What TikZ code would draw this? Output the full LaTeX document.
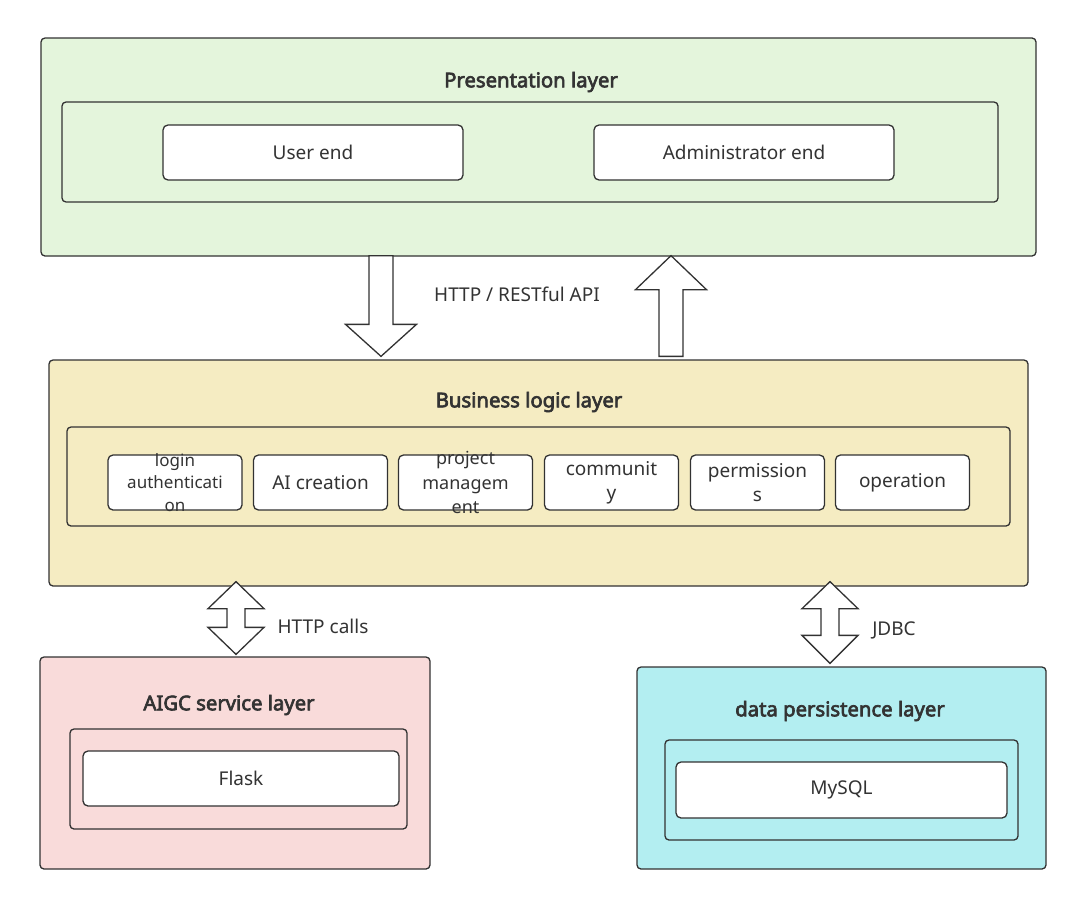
\documentclass[tikz,border=0pt]{standalone}
\usepackage{fontspec}
\setmainfont{Noto Sans}[AutoFakeBold=3.2]
\usepackage{tikz}
\usetikzlibrary{calc}
\definecolor{LineGray}{RGB}{50,50,50}
\definecolor{TextGray}{RGB}{51,51,51}
\definecolor{PresGreen}{RGB}{228,245,220}
\definecolor{BizYellow}{RGB}{245,236,194}
\definecolor{AigcPink}{RGB}{249,219,218}
\definecolor{DataCyan}{RGB}{179,238,241}

\tikzset{
  layerbox/.style={draw=LineGray,line width=1.3pt,rounded corners=4pt,inner sep=0pt},
  groupbox/.style={draw=LineGray,line width=1.3pt,rounded corners=4pt,inner sep=0pt},
  itembox/.style={draw=LineGray,line width=1.3pt,rounded corners=5pt,fill=white,inner sep=0pt,
    text=TextGray,font=\fontsize{19}{23}\selectfont},
  modbox/.style={itembox,minimum width=134pt,minimum height=55pt},
  modtext/.style={text=TextGray,align=center,inner sep=0pt},
  layertitle/.style={text=TextGray,font=\fontsize{20.3}{24}\selectfont\bfseries},
  linklabel/.style={text=TextGray,font=\fontsize{19}{23}\selectfont},
  blockarrow/.style={draw=LineGray,line width=1.3pt,fill=white,line join=miter}
}

\begin{document}
\begin{tikzpicture}[x=1pt,y=-1pt]
  \useasboundingbox (0,0) rectangle (1081,905);

  % presentation layer
  \node[layerbox,fill=PresGreen,minimum width=995pt,minimum height=218pt] (pres) at (538.5,147) {};
  \node[layertitle] (prestitle) at (531,82) {Presentation layer};
  \node[groupbox,minimum width=936pt,minimum height=100pt] (presgroup) at (530,152) {};
  \node[itembox,minimum width=300pt,minimum height=55pt] (user) at (313,152.5) {User end};
  \node[itembox,minimum width=300pt,minimum height=55pt] (admin) at (744,152.5) {Administrator end};

  % business logic layer
  \node[layerbox,fill=BizYellow,minimum width=979pt,minimum height=226pt] (biz) at (538.5,473) {};
  \node[layertitle] (biztitle) at (529,402) {Business logic layer};
  \node[groupbox,minimum width=943pt,minimum height=99pt] (bizgroup) at (538.5,476.5) {};
  \node[modbox] (login) at (175,482.5) {};
  \node[modtext,font=\fontsize{17}{22.5}\selectfont] at (login) {login\\authenticati\\on};
  \node[modbox] (aicreate) at (320.5,482.5) {AI creation};
  \node[modbox] (project) at (465.5,482.5) {};
  \node[modtext,font=\fontsize{18}{24.5}\selectfont] at (project) {project\\managem\\ent};
  \node[modbox] (community) at (611.5,482.5) {};
  \node[modtext,font=\fontsize{19}{24}\selectfont] at (community) {communit\\y};
  \node[modbox] (permission) at (757.5,482.5) {};
  \node[modtext,font=\fontsize{19}{24}\selectfont] at (permission) {permission\\s};
  \node[modbox] (operation) at (902.5,482.5) {operation};

  % AIGC service layer
  \node[layerbox,fill=AigcPink,minimum width=390pt,minimum height=212pt] (aigc) at (235,763) {};
  \node[layertitle] (aigctitle) at (229,705) {AIGC service layer};
  \node[groupbox,minimum width=337pt,minimum height=100pt] (aigcgroup) at (238.5,779) {};
  \node[itembox,minimum width=316pt,minimum height=55pt] (flask) at (241,778.5) {Flask};

  % data persistence layer
  \node[layerbox,fill=DataCyan,minimum width=409pt,minimum height=202pt] (data) at (841.5,768) {};
  \node[layertitle] (datatitle) at (840,711) {data persistence layer};
  \node[groupbox,minimum width=353pt,minimum height=100pt] (datagroup) at (841.5,790) {};
  \node[itembox,minimum width=331pt,minimum height=56pt] (mysql) at (841.5,790) {MySQL};

  % hollow arrows
  \path (381,0) coordinate (dnx) (671,0) coordinate (upx) (236,0) coordinate (aix) (830,0) coordinate (dbx);
  \draw[blockarrow] ($(pres.south -| dnx)+(-12,-1)$) -- ++(24,0) -- ($(biz.north -| dnx)+(12,-35)$)
    -- ++(23.5,0) -- ($(biz.north -| dnx)+(0,-3)$) -- ++(-35.5,-32) -- ++(23.5,0) -- cycle;
  \draw[blockarrow] ($(biz.north -| upx)+(-12,-3)$) -- ++(24,0) -- ($(pres.south -| upx)+(12,33)$)
    -- ++(23.5,0) -- ($(pres.south -| upx)+(0,-1)$) -- ++(-35.5,34) -- ++(23.5,0) -- cycle;
  \draw[blockarrow] ($(biz.south -| aix)+(0,-5)$) -- ++(28,27) -- ++(-19,0) -- ($(aigc.north -| aix)+(9,-29)$)
    -- ++(19,0) -- ($(aigc.north -| aix)+(0,-2)$) -- ++(-28,-27) -- ++(19,0) -- ($(biz.south -| aix)+(-9,22)$)
    -- ++(-19,0) -- cycle;
  \draw[blockarrow] ($(biz.south -| dbx)+(0,-5)$) -- ++(28,27) -- ++(-19,0) -- ($(data.north -| dbx)+(9,-31)$)
    -- ++(19,0) -- ($(data.north -| dbx)+(0,-3)$) -- ++(-28,-28) -- ++(19,0) -- ($(biz.south -| dbx)+(-9,22)$)
    -- ++(-19,0) -- cycle;

  % link labels
  \node[linklabel] (httplabel) at (517,294) {HTTP / RESTful API};
  \node[linklabel] (callslabel) at (323,626) {HTTP calls};
  \node[linklabel] (jdbclabel) at (894,630) {JDBC};
\end{tikzpicture}
\end{document}
